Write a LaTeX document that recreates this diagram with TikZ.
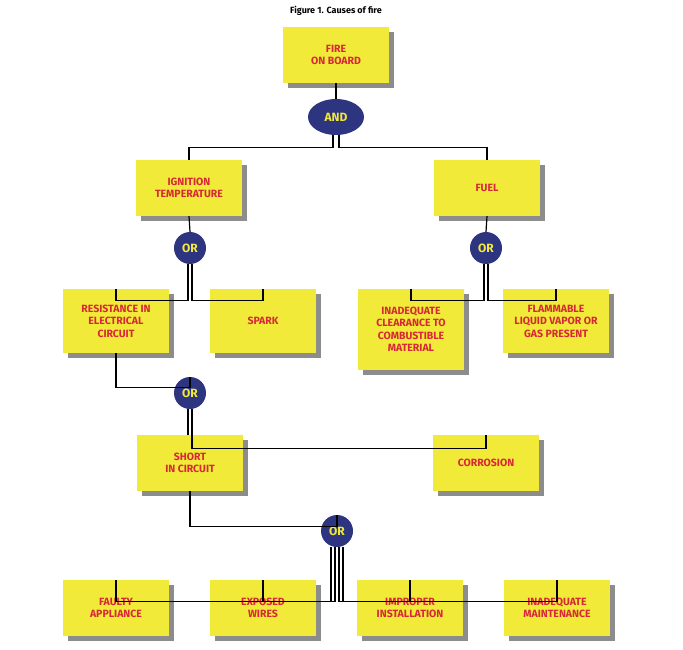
\documentclass[tikz,border=0pt]{standalone}
\usepackage{fontspec}
\setmainfont{Fira Sans}
\usetikzlibrary{shadows,shapes.geometric}
\definecolor{by}{RGB}{242,234,56}
\definecolor{bred}{RGB}{215,40,55}
\definecolor{navy}{RGB}{45,52,128}
\begin{document}
\begin{tikzpicture}[x=1pt,y=-1pt,
 box/.style={draw=none,fill=by,minimum width=106pt,minimum height=56pt,align=center,
   font=\bfseries\fontsize{10.5}{12.5}\selectfont,text=bred,
   drop shadow={shadow xshift=5pt,shadow yshift=-5pt,fill=black,opacity=0.45}},
 gate/.style={fill=navy,text=by,font=\bfseries\fontsize{12}{14}\selectfont,inner sep=0pt},
 orr/.style={gate,circle,minimum size=32pt},
 ln/.style={line width=1.2pt}]
\useasboundingbox (0,0) rectangle (683,650);
\node[font=\bfseries\fontsize{9}{11}\selectfont] (title) at (336,11) {Figure 1. Causes of fire};
\node[box] (fire) at (336,55) {FIRE\\ON BOARD};
\node[gate,ellipse,minimum width=56pt,minimum height=36pt] (and) at (336,117) {AND};
\node[box] (ign) at (189,188) {IGNITION\\TEMPERATURE};
\node[box] (fuel) at (487,188) {FUEL};
\node[orr] (or1) at (190,248) {OR};
\node[orr] (or2) at (486,248) {OR};
\node[box,minimum height=64pt] (res) at (116,321) {RESISTANCE IN\\ELECTRICAL\\CIRCUIT};
\node[box,minimum height=64pt] (spark) at (263,321) {SPARK};
\node[box,minimum height=81pt] (clear) at (411,329.5) {INADEQUATE\\CLEARANCE TO\\COMBUSTIBLE\\MATERIAL};
\node[box,minimum height=64pt] (flam) at (556,321) {FLAMMABLE\\LIQUID VAPOR OR\\GAS PRESENT};
\node[orr] (or3) at (190,393) {OR};
\node[box] (short) at (190,463) {SHORT\\IN CIRCUIT};
\node[box] (corr) at (486,463) {CORROSION};
\node[orr] (or4) at (337,531) {OR};
\node[box] (fa) at (116,608) {FAULTY\\APPLIANCE};
\node[box] (ew) at (263,608) {EXPOSED\\WIRES};
\node[box] (ii) at (410,608) {IMPROPER\\INSTALLATION};
\node[box] (im) at (557,608) {INADEQUATE\\MAINTENANCE};
\begin{scope}[ln]
\draw (fire.south) -- (and.north);
\draw ([xshift=-3pt]and.south) -- ++(0,12) -| (ign.north);
\draw ([xshift=3pt]and.south) -- ++(0,12) -| (fuel.north);
\draw (ign.south) -- (or1.north);
\draw (fuel.south) -- (or2.north);
\draw ([xshift=-2pt]or1.south) |- ([yshift=-12pt]res.north) -- (res.north);
\draw ([xshift=2pt]or1.south) |- ([yshift=-12pt]spark.north) -- (spark.north);
\draw ([xshift=-2pt]or2.south) |- ([yshift=-12pt]clear.north) -- (clear.north);
\draw ([xshift=2pt]or2.south) |- ([yshift=-12pt]flam.north) -- (flam.north);
\draw (res.south) |- ([yshift=-11pt]or3.north) -- (or3.north);
\draw ([xshift=-2pt]or3.south) -- ([xshift=-2pt]short.north);
\draw ([xshift=2pt]or3.south) |- ([yshift=-14pt]corr.north) -- (corr.north);
\draw (short.south) |- ([yshift=-12pt]or4.north) -- (or4.north);
\draw ([xshift=-6pt]or4.south) |- ([yshift=-22pt]fa.north) -- (fa.north);
\draw ([xshift=-2pt]or4.south) |- ([yshift=-22pt]ew.north) -- (ew.north);
\draw ([xshift=2pt]or4.south) |- ([yshift=-22pt]ii.north) -- (ii.north);
\draw ([xshift=6pt]or4.south) |- ([yshift=-22pt]im.north) -- (im.north);
\end{scope}
\end{tikzpicture}
\end{document}
